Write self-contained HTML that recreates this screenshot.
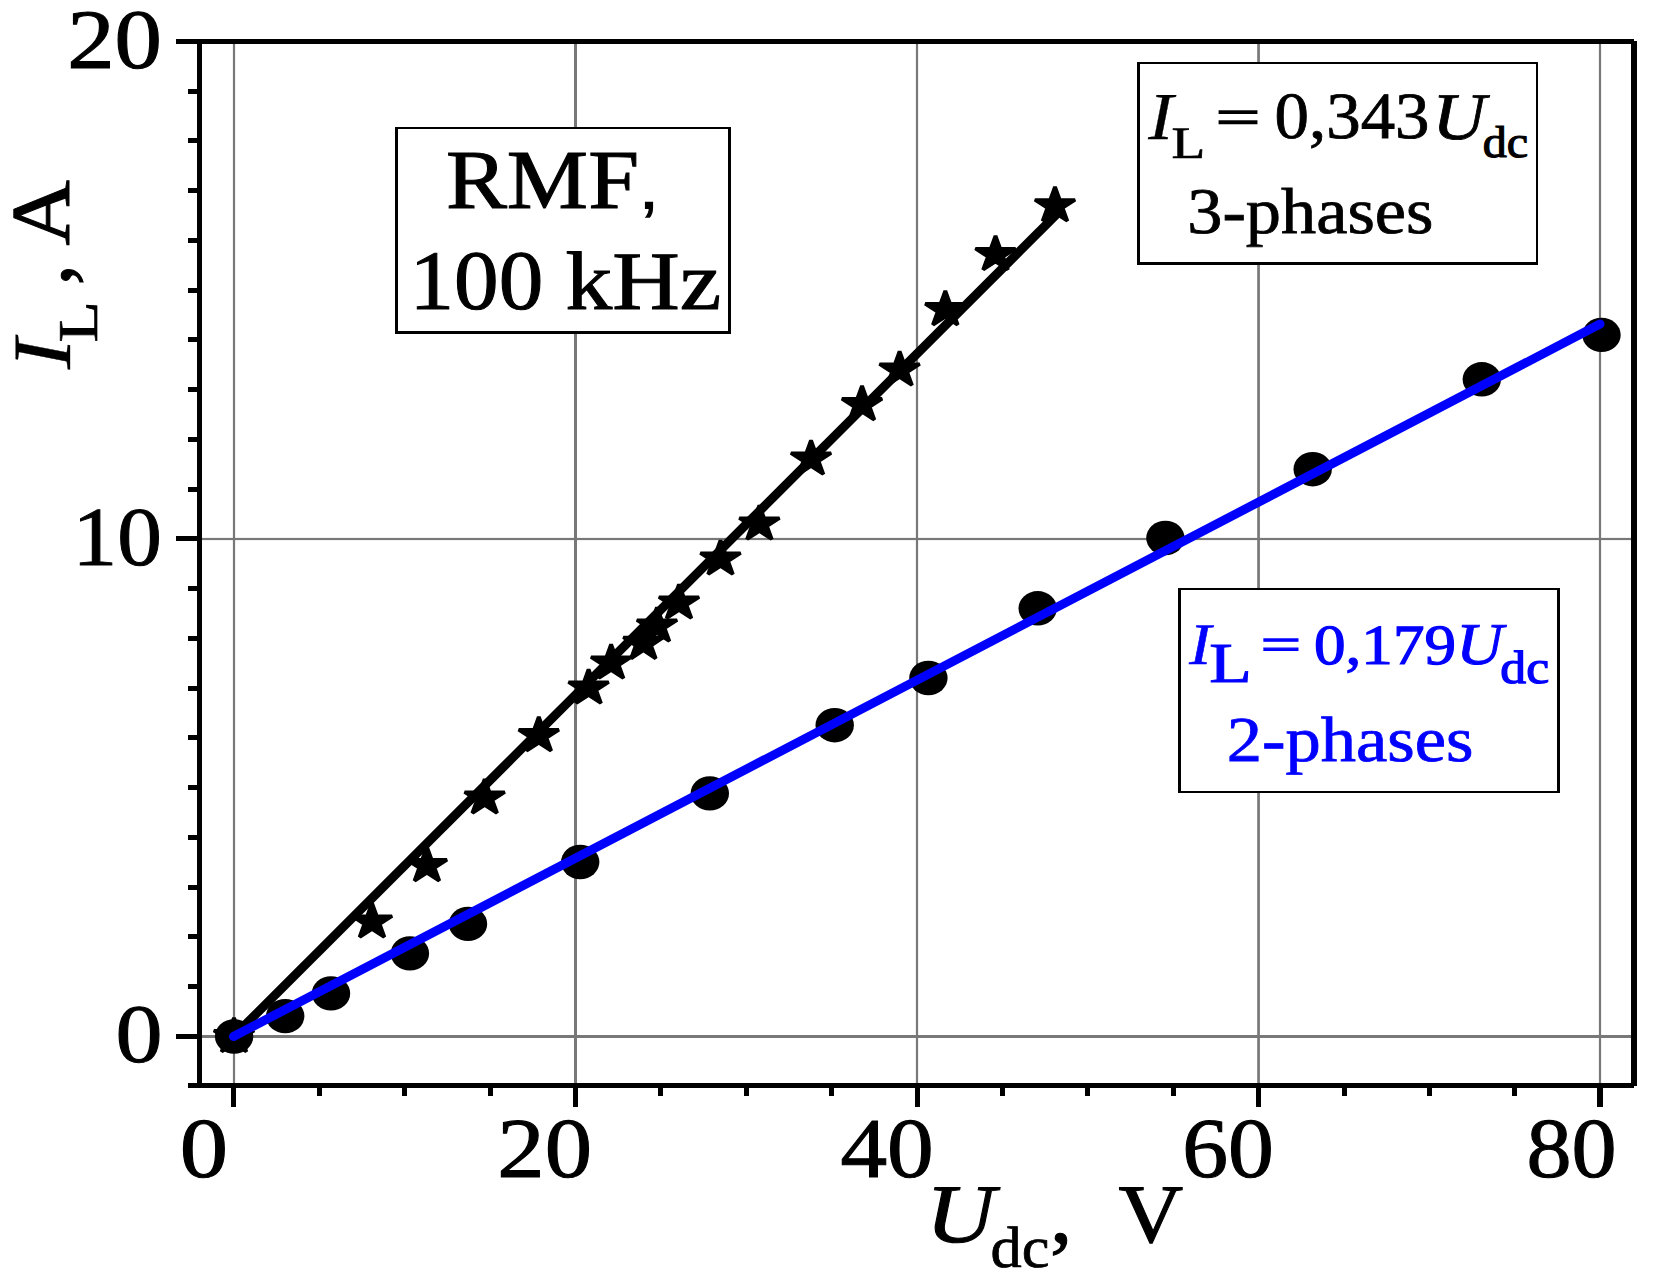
<!DOCTYPE html>
<html><head><meta charset="utf-8"><title>RMF 100 kHz: I_L vs U_dc</title>
<style>
html,body{margin:0;padding:0;background:#fff;overflow:hidden;}
svg{display:block;}
text{font-family:"Liberation Serif",serif;font-kerning:none;white-space:pre;text-rendering:geometricPrecision;}
</style></head><body>
<svg width="1661" height="1283" viewBox="0 0 1661 1283" shape-rendering="geometricPrecision">
<rect width="1661" height="1283" fill="#fff"/>
<rect x="232.90" y="44.00" width="2.20" height="1039.00" fill="#787878"/>
<rect x="574.00" y="44.00" width="3.00" height="1039.00" fill="#787878"/>
<rect x="915.90" y="44.00" width="2.20" height="1039.00" fill="#787878"/>
<rect x="1257.20" y="44.00" width="2.70" height="1039.00" fill="#787878"/>
<rect x="1598.90" y="44.00" width="2.20" height="1039.00" fill="#787878"/>
<rect x="202.00" y="537.90" width="1429.00" height="2.20" fill="#787878"/>
<rect x="202.00" y="1035.00" width="1429.00" height="3.00" fill="#787878"/>
<line x1="233.50" y1="1036.50" x2="1056.50" y2="214.32" stroke="#000" stroke-width="9"/>
<polygon transform="translate(234.00,1036.50) scale(1.12,1)" points="0.00,-18.80 4.22,-5.81 17.88,-5.81 6.83,2.22 11.05,15.21 0.00,7.18 -11.05,15.21 -6.83,2.22 -17.88,-5.81 -4.22,-5.81" fill="#000" stroke="#000" stroke-width="3.4" stroke-linejoin="bevel"/>
<polygon transform="translate(372.00,921.90) scale(1.12,1)" points="0.00,-18.80 4.22,-5.81 17.88,-5.81 6.83,2.22 11.05,15.21 0.00,7.18 -11.05,15.21 -6.83,2.22 -17.88,-5.81 -4.22,-5.81" fill="#000" stroke="#000" stroke-width="3.4" stroke-linejoin="bevel"/>
<polygon transform="translate(426.90,865.60) scale(1.12,1)" points="0.00,-18.80 4.22,-5.81 17.88,-5.81 6.83,2.22 11.05,15.21 0.00,7.18 -11.05,15.21 -6.83,2.22 -17.88,-5.81 -4.22,-5.81" fill="#000" stroke="#000" stroke-width="3.4" stroke-linejoin="bevel"/>
<polygon transform="translate(484.70,797.90) scale(1.12,1)" points="0.00,-18.80 4.22,-5.81 17.88,-5.81 6.83,2.22 11.05,15.21 0.00,7.18 -11.05,15.21 -6.83,2.22 -17.88,-5.81 -4.22,-5.81" fill="#000" stroke="#000" stroke-width="3.4" stroke-linejoin="bevel"/>
<polygon transform="translate(538.80,735.60) scale(1.12,1)" points="0.00,-18.80 4.22,-5.81 17.88,-5.81 6.83,2.22 11.05,15.21 0.00,7.18 -11.05,15.21 -6.83,2.22 -17.88,-5.81 -4.22,-5.81" fill="#000" stroke="#000" stroke-width="3.4" stroke-linejoin="bevel"/>
<polygon transform="translate(588.60,688.00) scale(1.12,1)" points="0.00,-18.80 4.22,-5.81 17.88,-5.81 6.83,2.22 11.05,15.21 0.00,7.18 -11.05,15.21 -6.83,2.22 -17.88,-5.81 -4.22,-5.81" fill="#000" stroke="#000" stroke-width="3.4" stroke-linejoin="bevel"/>
<polygon transform="translate(611.10,663.00) scale(1.12,1)" points="0.00,-18.80 4.22,-5.81 17.88,-5.81 6.83,2.22 11.05,15.21 0.00,7.18 -11.05,15.21 -6.83,2.22 -17.88,-5.81 -4.22,-5.81" fill="#000" stroke="#000" stroke-width="3.4" stroke-linejoin="bevel"/>
<polygon transform="translate(643.40,643.30) scale(1.12,1)" points="0.00,-18.80 4.22,-5.81 17.88,-5.81 6.83,2.22 11.05,15.21 0.00,7.18 -11.05,15.21 -6.83,2.22 -17.88,-5.81 -4.22,-5.81" fill="#000" stroke="#000" stroke-width="3.4" stroke-linejoin="bevel"/>
<polygon transform="translate(657.00,626.00) scale(1.12,1)" points="0.00,-18.80 4.22,-5.81 17.88,-5.81 6.83,2.22 11.05,15.21 0.00,7.18 -11.05,15.21 -6.83,2.22 -17.88,-5.81 -4.22,-5.81" fill="#000" stroke="#000" stroke-width="3.4" stroke-linejoin="bevel"/>
<polygon transform="translate(679.00,603.00) scale(1.12,1)" points="0.00,-18.80 4.22,-5.81 17.88,-5.81 6.83,2.22 11.05,15.21 0.00,7.18 -11.05,15.21 -6.83,2.22 -17.88,-5.81 -4.22,-5.81" fill="#000" stroke="#000" stroke-width="3.4" stroke-linejoin="bevel"/>
<polygon transform="translate(720.50,559.00) scale(1.12,1)" points="0.00,-18.80 4.22,-5.81 17.88,-5.81 6.83,2.22 11.05,15.21 0.00,7.18 -11.05,15.21 -6.83,2.22 -17.88,-5.81 -4.22,-5.81" fill="#000" stroke="#000" stroke-width="3.4" stroke-linejoin="bevel"/>
<polygon transform="translate(759.40,524.00) scale(1.12,1)" points="0.00,-18.80 4.22,-5.81 17.88,-5.81 6.83,2.22 11.05,15.21 0.00,7.18 -11.05,15.21 -6.83,2.22 -17.88,-5.81 -4.22,-5.81" fill="#000" stroke="#000" stroke-width="3.4" stroke-linejoin="bevel"/>
<polygon transform="translate(811.00,459.00) scale(1.12,1)" points="0.00,-18.80 4.22,-5.81 17.88,-5.81 6.83,2.22 11.05,15.21 0.00,7.18 -11.05,15.21 -6.83,2.22 -17.88,-5.81 -4.22,-5.81" fill="#000" stroke="#000" stroke-width="3.4" stroke-linejoin="bevel"/>
<polygon transform="translate(862.00,404.60) scale(1.12,1)" points="0.00,-18.80 4.22,-5.81 17.88,-5.81 6.83,2.22 11.05,15.21 0.00,7.18 -11.05,15.21 -6.83,2.22 -17.88,-5.81 -4.22,-5.81" fill="#000" stroke="#000" stroke-width="3.4" stroke-linejoin="bevel"/>
<polygon transform="translate(899.60,370.00) scale(1.12,1)" points="0.00,-18.80 4.22,-5.81 17.88,-5.81 6.83,2.22 11.05,15.21 0.00,7.18 -11.05,15.21 -6.83,2.22 -17.88,-5.81 -4.22,-5.81" fill="#000" stroke="#000" stroke-width="3.4" stroke-linejoin="bevel"/>
<polygon transform="translate(945.30,309.60) scale(1.12,1)" points="0.00,-18.80 4.22,-5.81 17.88,-5.81 6.83,2.22 11.05,15.21 0.00,7.18 -11.05,15.21 -6.83,2.22 -17.88,-5.81 -4.22,-5.81" fill="#000" stroke="#000" stroke-width="3.4" stroke-linejoin="bevel"/>
<polygon transform="translate(995.50,254.50) scale(1.12,1)" points="0.00,-18.80 4.22,-5.81 17.88,-5.81 6.83,2.22 11.05,15.21 0.00,7.18 -11.05,15.21 -6.83,2.22 -17.88,-5.81 -4.22,-5.81" fill="#000" stroke="#000" stroke-width="3.4" stroke-linejoin="bevel"/>
<polygon transform="translate(1055.00,205.70) scale(1.12,1)" points="0.00,-18.80 4.22,-5.81 17.88,-5.81 6.83,2.22 11.05,15.21 0.00,7.18 -11.05,15.21 -6.83,2.22 -17.88,-5.81 -4.22,-5.81" fill="#000" stroke="#000" stroke-width="3.4" stroke-linejoin="bevel"/>
<ellipse cx="234.10" cy="1036.50" rx="19.2" ry="17.2" fill="#000"/>
<ellipse cx="285.20" cy="1016.10" rx="19.2" ry="17.2" fill="#000"/>
<ellipse cx="331.00" cy="993.40" rx="19.2" ry="17.2" fill="#000"/>
<ellipse cx="409.90" cy="953.40" rx="19.2" ry="17.2" fill="#000"/>
<ellipse cx="468.00" cy="923.90" rx="19.2" ry="17.2" fill="#000"/>
<ellipse cx="580.20" cy="862.00" rx="19.2" ry="17.2" fill="#000"/>
<ellipse cx="709.80" cy="793.40" rx="19.2" ry="17.2" fill="#000"/>
<ellipse cx="834.70" cy="725.20" rx="19.2" ry="17.2" fill="#000"/>
<ellipse cx="928.40" cy="678.00" rx="19.2" ry="17.2" fill="#000"/>
<ellipse cx="1037.70" cy="608.30" rx="19.2" ry="17.2" fill="#000"/>
<ellipse cx="1165.40" cy="538.00" rx="19.2" ry="17.2" fill="#000"/>
<ellipse cx="1312.70" cy="469.20" rx="19.2" ry="17.2" fill="#000"/>
<ellipse cx="1481.80" cy="379.30" rx="19.2" ry="17.2" fill="#000"/>
<ellipse cx="1601.50" cy="334.90" rx="19.2" ry="17.2" fill="#000"/>
<line x1="233.50" y1="1036.50" x2="1600.00" y2="324.08" stroke="#0000ff" stroke-width="9" stroke-linecap="round"/>
<rect x="197.00" y="39.00" width="5.00" height="1049.00" fill="#000"/>
<rect x="176.00" y="39.00" width="1458.00" height="5.00" fill="#000"/>
<rect x="1631.00" y="41.00" width="6.00" height="1045.00" fill="#000"/>
<rect x="188.00" y="1083.00" width="1446.00" height="5.00" fill="#000"/>
<rect x="176.00" y="1034.00" width="21.00" height="5.00" fill="#000"/>
<rect x="188.00" y="984.00" width="9.00" height="5.00" fill="#000"/>
<rect x="188.00" y="934.00" width="9.00" height="5.00" fill="#000"/>
<rect x="188.00" y="885.00" width="9.00" height="5.00" fill="#000"/>
<rect x="188.00" y="835.00" width="9.00" height="5.00" fill="#000"/>
<rect x="188.00" y="785.00" width="9.00" height="5.00" fill="#000"/>
<rect x="188.00" y="735.00" width="9.00" height="5.00" fill="#000"/>
<rect x="188.00" y="686.00" width="9.00" height="5.00" fill="#000"/>
<rect x="188.00" y="636.00" width="9.00" height="5.00" fill="#000"/>
<rect x="188.00" y="586.00" width="9.00" height="5.00" fill="#000"/>
<rect x="176.00" y="536.00" width="21.00" height="5.00" fill="#000"/>
<rect x="188.00" y="487.00" width="9.00" height="5.00" fill="#000"/>
<rect x="188.00" y="437.00" width="9.00" height="5.00" fill="#000"/>
<rect x="188.00" y="387.00" width="9.00" height="5.00" fill="#000"/>
<rect x="188.00" y="337.00" width="9.00" height="5.00" fill="#000"/>
<rect x="188.00" y="288.00" width="9.00" height="5.00" fill="#000"/>
<rect x="188.00" y="238.00" width="9.00" height="5.00" fill="#000"/>
<rect x="188.00" y="188.00" width="9.00" height="5.00" fill="#000"/>
<rect x="188.00" y="138.00" width="9.00" height="5.00" fill="#000"/>
<rect x="188.00" y="89.00" width="9.00" height="5.00" fill="#000"/>
<rect x="231.00" y="1088.00" width="5.00" height="19.00" fill="#000"/>
<rect x="317.00" y="1088.00" width="5.00" height="8.00" fill="#000"/>
<rect x="402.00" y="1088.00" width="5.00" height="8.00" fill="#000"/>
<rect x="488.00" y="1088.00" width="5.00" height="8.00" fill="#000"/>
<rect x="573.00" y="1088.00" width="5.00" height="19.00" fill="#000"/>
<rect x="658.00" y="1088.00" width="5.00" height="8.00" fill="#000"/>
<rect x="744.00" y="1088.00" width="5.00" height="8.00" fill="#000"/>
<rect x="829.00" y="1088.00" width="5.00" height="8.00" fill="#000"/>
<rect x="915.00" y="1088.00" width="5.00" height="19.00" fill="#000"/>
<rect x="1000.00" y="1088.00" width="5.00" height="8.00" fill="#000"/>
<rect x="1085.00" y="1088.00" width="5.00" height="8.00" fill="#000"/>
<rect x="1171.00" y="1088.00" width="5.00" height="8.00" fill="#000"/>
<rect x="1256.00" y="1088.00" width="5.00" height="19.00" fill="#000"/>
<rect x="1342.00" y="1088.00" width="5.00" height="8.00" fill="#000"/>
<rect x="1427.00" y="1088.00" width="5.00" height="8.00" fill="#000"/>
<rect x="1512.00" y="1088.00" width="5.00" height="8.00" fill="#000"/>
<rect x="1597.00" y="1088.00" width="6.00" height="19.00" fill="#000"/>
<text transform="translate(67.15,67.66) scale(1.1196,1)" font-size="84.71" fill="#000" stroke="#000" stroke-width="1.03">20</text>
<text transform="translate(72.57,564.87) scale(1.0679,1)" font-size="83.55" fill="#000" stroke="#000" stroke-width="1.02">10</text>
<text transform="translate(115.42,1061.68) scale(1.1343,1)" font-size="82.97" fill="#000" stroke="#000" stroke-width="1.01">0</text>
<text transform="translate(179.84,1176.85) scale(1.1350,1)" font-size="85.15" fill="#000" stroke="#000" stroke-width="1.04">0</text>
<text transform="translate(497.36,1176.85) scale(1.1125,1)" font-size="85.15" fill="#000" stroke="#000" stroke-width="1.04">20</text>
<text transform="translate(840.40,1176.85) scale(1.0962,1)" font-size="85.15" fill="#000" stroke="#000" stroke-width="1.04">40</text>
<text transform="translate(1182.18,1176.85) scale(1.0768,1)" font-size="85.15" fill="#000" stroke="#000" stroke-width="1.04">60</text>
<text transform="translate(1526.39,1176.85) scale(1.0584,1)" font-size="85.15" fill="#000" stroke="#000" stroke-width="1.04">80</text>
<text transform="translate(925.71,1241.68) scale(1.1537,1)" font-size="83.04" font-style="italic" fill="#000" stroke="#000" stroke-width="1.01">U</text>
<text transform="translate(990.60,1266.58) scale(1.0725,1)" font-size="58.25" fill="#000" stroke="#000" stroke-width="0.71">dc</text>
<text transform="translate(1049.93,1242.27) scale(1.0432,1)" font-size="85.74" fill="#000" stroke="#000" stroke-width="1.08">,</text>
<text transform="translate(1118.50,1241.73) scale(1.0778,1)" font-size="83.12" fill="#000" stroke="#000" stroke-width="1.02">V</text>
<text transform="translate(69.63,369.29) rotate(-90) scale(1.1200,1)" font-size="82.88" font-style="italic" fill="#000" stroke="#000" stroke-width="0.33">I</text>
<text transform="translate(96.56,342.61) rotate(-90) scale(1.2033,1)" font-size="56.22" fill="#000" stroke="#000" stroke-width="0.69">L</text>
<text transform="translate(70.13,285.17) rotate(-90) scale(0.9852,1)" font-size="85.37" fill="#000" stroke="#000" stroke-width="1.07">,</text>
<text transform="translate(69.29,245.47) rotate(-90) scale(1.0839,1)" font-size="83.58" fill="#000" stroke="#000" stroke-width="1.02">A</text>
<rect x="395.00" y="127.00" width="336.00" height="207.00" fill="#fff"/>
<rect x="395.00" y="127.00" width="3.00" height="207.00" fill="#000"/>
<rect x="728.00" y="127.00" width="3.00" height="207.00" fill="#000"/>
<rect x="395.00" y="127.00" width="336.00" height="2.00" fill="#000"/>
<rect x="395.00" y="331.00" width="336.00" height="3.00" fill="#000"/>
<text transform="translate(445.88,208.49) scale(1.0889,1)" font-size="83.96" fill="#000" stroke="#000" stroke-width="1.03">RMF</text>
<text transform="translate(637.01,209.23) scale(1.2485,1)" font-size="68.55" style="font-family:'Liberation Sans',sans-serif" fill="#000" stroke="#000" stroke-width="0.00">,</text>
<text transform="translate(409.48,308.88) scale(1.0560,1)" font-size="84.48" fill="#000" stroke="#000" stroke-width="1.03">100</text>
<text transform="translate(565.43,308.89) scale(1.1258,1)" font-size="83.00" fill="#000" stroke="#000" stroke-width="1.01">kHz</text>
<rect x="1137.00" y="62.00" width="401.00" height="203.00" fill="#fff"/>
<rect x="1137.00" y="62.00" width="3.00" height="203.00" fill="#000"/>
<rect x="1536.00" y="62.00" width="2.00" height="203.00" fill="#000"/>
<rect x="1137.00" y="62.00" width="401.00" height="2.00" fill="#000"/>
<rect x="1137.00" y="262.00" width="401.00" height="3.00" fill="#000"/>
<text transform="translate(1148.32,138.86) scale(1.1200,1)" font-size="67.09" font-style="italic" fill="#000" stroke="#000" stroke-width="0.27">I</text>
<text transform="translate(1171.53,157.68) scale(1.2247,1)" font-size="45.14" fill="#000" stroke="#000" stroke-width="0.65">L</text>
<text transform="translate(1215.68,133.72) scale(1.5591,1)" font-size="50.58" fill="#000" stroke="#000" stroke-width="1.40">=</text>
<text transform="translate(1274.48,138.15) scale(1.0444,1)" font-size="66.01" fill="#000" stroke="#000" stroke-width="0.81">0,343</text>
<text transform="translate(1432.31,138.74) scale(1.1136,1)" font-size="66.49" font-style="italic" fill="#000" stroke="#000" stroke-width="0.81">U</text>
<text transform="translate(1482.74,157.29) scale(1.0788,1)" font-size="44.55" fill="#000" stroke="#000" stroke-width="1.15">dc</text>
<text transform="translate(1187.23,233.20) scale(1.0824,1)" font-size="65.01" fill="#000" stroke="#000" stroke-width="0.79">3-phases</text>
<rect x="1178.00" y="588.00" width="382.00" height="205.00" fill="#fff"/>
<rect x="1178.00" y="588.00" width="3.00" height="205.00" fill="#000"/>
<rect x="1557.00" y="588.00" width="3.00" height="205.00" fill="#000"/>
<rect x="1178.00" y="588.00" width="382.00" height="2.00" fill="#000"/>
<rect x="1178.00" y="791.00" width="382.00" height="2.00" fill="#000"/>
<text transform="translate(1189.36,663.90) scale(1.1200,1)" font-size="58.88" font-style="italic" fill="#0000ff" stroke="#0000ff" stroke-width="0.60">I</text>
<text transform="translate(1209.16,682.39) scale(1.2324,1)" font-size="56.54" fill="#0000ff" stroke="#0000ff" stroke-width="0.93">L</text>
<text transform="translate(1260.78,660.20) scale(1.5493,1)" font-size="46.08" fill="#0000ff" stroke="#0000ff" stroke-width="1.28">=</text>
<text transform="translate(1313.98,664.01) scale(1.1117,1)" font-size="56.80" fill="#0000ff" stroke="#0000ff" stroke-width="1.17">0,179</text>
<text transform="translate(1456.30,664.34) scale(1.0916,1)" font-size="59.26" font-style="italic" fill="#0000ff" stroke="#0000ff" stroke-width="0.97">U</text>
<text transform="translate(1500.36,682.71) scale(1.1077,1)" font-size="46.67" fill="#0000ff" stroke="#0000ff" stroke-width="1.26">dc</text>
<text transform="translate(1226.69,760.91) scale(1.1041,1)" font-size="63.88" fill="#0000ff" stroke="#0000ff" stroke-width="0.78">2-phases</text>
</svg>
</body></html>
